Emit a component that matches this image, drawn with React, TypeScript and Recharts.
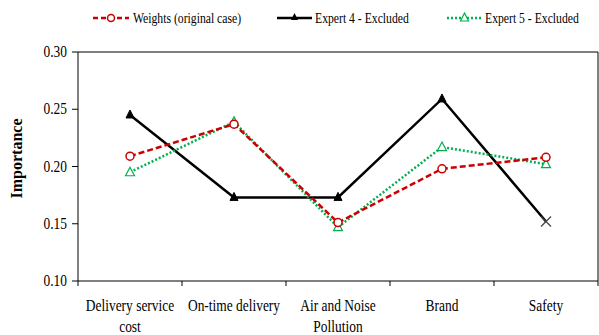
import React from 'react';
import { LineChart, Line, XAxis, YAxis, ReferenceLine } from 'recharts';

const categories = ['Delivery service cost', 'On-time delivery', 'Air and Noise Pollution', 'Brand', 'Safety'];
const categoryLines = [['Delivery service', 'cost'], ['On-time delivery'], ['Air and Noise', 'Pollution'], ['Brand'], ['Safety']];
const weights = [0.209, 0.237, 0.151, 0.198, 0.208];
const expert4 = [0.245, 0.173, 0.173, 0.259, 0.152];
const expert5 = [0.195, 0.239, 0.147, 0.217, 0.202];
const yTicks = [0.1, 0.15, 0.2, 0.25, 0.3];
const xTicks = [0, 0.5, 1, 1.5, 2, 2.5, 3, 3.5, 4, 4.5, 5];

const FONT = "'Liberation Serif', 'Times New Roman', Tinos";
const SQUEEZE = 0.84; // source text looks horizontally condensed

const data = categories.map((c, i) => ({
  name: c,
  pos: i + 0.5,
  weights: weights[i],
  expert4: expert4[i],
  expert5: expert5[i],
}));

const XTick = (props: any) => {
  const { x, y, payload } = props;
  const v = payload.value;
  if (Number.isInteger(v)) {
    return <line x1={x} x2={x} y1={y} y2={y + 5} stroke="#000" strokeWidth={1} />;
  }
  const lines = categoryLines[Math.floor(v)];
  return (
    <g transform={`translate(${x},${y}) scale(${SQUEEZE},1)`}>
      {lines.map((l, i) => (
        <text key={i} x={0} y={30 + i * 21} textAnchor="middle" fontFamily={FONT} fontSize={16} fill="#000">{l}</text>
      ))}
    </g>
  );
};

const YTick = (props: any) => {
  const { x, y, payload } = props;
  return (
    <text transform={`translate(${x},${y}) scale(${SQUEEZE},1)`} x={0} y={5} textAnchor="end" fontFamily={FONT} fontSize={16} fill="#000">
      {Number(payload.value).toFixed(2)}
    </text>
  );
};

const YLabel = (props: any) => {
  const { viewBox } = props;
  const cx = viewBox.x + 17;
  const cy = viewBox.y + viewBox.height / 2 - 8;
  return (
    <text transform={`translate(${cx},${cy}) rotate(-90)`} x={0} y={5} textAnchor="middle" fontFamily={FONT} fontSize={16} fontWeight="bold" fill="#000">
      Importance
    </text>
  );
};

const CircleDot = (props: any) => {
  const { cx, cy } = props;
  return <circle cx={cx} cy={cy} r={4} fill="#fff" stroke="#cc0000" strokeWidth={1.5} />;
};

const TriOpen = (props: any) => {
  const { cx, cy } = props;
  return <path d={`M${cx},${cy - 5} L${cx + 4.5},${cy + 3.5} L${cx - 4.5},${cy + 3.5} Z`} fill="#fff" stroke="#00b050" strokeWidth={1.2} />;
};

const TriFilled = (props: any) => {
  const { cx, cy, index } = props;
  if (index === categories.length - 1) {
    return (
      <g stroke="#444" strokeWidth={1.2}>
        <line x1={cx - 5} y1={cy - 5} x2={cx + 5} y2={cy + 5} />
        <line x1={cx - 5} y1={cy + 5} x2={cx + 5} y2={cy - 5} />
      </g>
    );
  }
  return <path d={`M${cx},${cy - 5} L${cx + 4},${cy + 3} L${cx - 4},${cy + 3} Z`} fill="#000" stroke="#000" />;
};

const legendItems = [
  { label: 'Weights (original case)', x1: 93, x2: 129, textX: 133 },
  { label: 'Expert 4 - Excluded', x1: 277, x2: 312, textX: 315 },
  { label: 'Expert 5 - Excluded', x1: 447, x2: 482, textX: 485 },
];

const LegendRow = () => {
  const ly = 18;
  const [w, e4, e5] = legendItems;
  return (
    <svg width={599} height={30} style={{ position: 'absolute', left: 0, top: 0 }}>
      <line x1={w.x1} x2={w.x2} y1={ly} y2={ly} stroke="#cc0000" strokeWidth={2.5} strokeDasharray="5 3" />
      <circle cx={(w.x1 + w.x2) / 2} cy={ly} r={3.5} fill="#fff" stroke="#cc0000" strokeWidth={1.5} />
      <line x1={e4.x1} x2={e4.x2} y1={ly} y2={ly} stroke="#000" strokeWidth={2.5} />
      <path d={`M${(e4.x1 + e4.x2) / 2},${ly - 5} L${(e4.x1 + e4.x2) / 2 + 3.5},${ly + 2} L${(e4.x1 + e4.x2) / 2 - 3.5},${ly + 2} Z`} fill="#000" />
      <line x1={e5.x1} x2={e5.x2} y1={ly} y2={ly} stroke="#00b050" strokeWidth={2.5} strokeDasharray="2 2" />
      <path d={`M${(e5.x1 + e5.x2) / 2},${ly - 5} L${(e5.x1 + e5.x2) / 2 + 4},${ly + 3} L${(e5.x1 + e5.x2) / 2 - 4},${ly + 3} Z`} fill="#fff" stroke="#00b050" strokeWidth={1.2} />
      {legendItems.map(it => (
        <text key={it.label} transform={`translate(${it.textX},${ly + 5}) scale(0.78,1)`} fontFamily={FONT} fontSize={15} fill="#000">{it.label}</text>
      ))}
    </svg>
  );
};

export default function App() {
  return (
    <div style={{ position: 'absolute', left: 0, top: 0, width: 599, height: 335, background: '#fff' }}>
      <LegendRow />
      <LineChart width={599} height={335} data={data} margin={{ top: 52, right: 1, bottom: 4, left: 0 }}>
        <XAxis
          dataKey="pos"
          type="number"
          domain={[0, 5]}
          ticks={xTicks}
          interval={0}
          tickSize={0}
          tickMargin={0}
          tickLine={false}
          axisLine={{ stroke: '#000', strokeWidth: 1 }}
          tick={<XTick />}
          height={50}
        />
        <YAxis
          type="number"
          domain={[0.1, 0.3]}
          ticks={yTicks}
          axisLine={{ stroke: '#000', strokeWidth: 1 }}
          tickLine={{ stroke: '#000' }}
          tickSize={6}
          tickMargin={5}
          width={78}
          tick={<YTick />}
          label={<YLabel />}
        />
        <ReferenceLine y={0.3} stroke="#000" strokeWidth={1} />
        <ReferenceLine x={5} stroke="#000" strokeWidth={1} />
        <Line dataKey="expert4" stroke="#000" strokeWidth={2.5} dot={<TriFilled />} isAnimationActive={false} />
        <Line dataKey="expert5" stroke="#00b050" strokeWidth={2.5} strokeDasharray="2 2" dot={<TriOpen />} isAnimationActive={false} />
        <Line dataKey="weights" stroke="#cc0000" strokeWidth={2.5} strokeDasharray="6 3" dot={<CircleDot />} isAnimationActive={false} />
      </LineChart>
    </div>
  );
}
